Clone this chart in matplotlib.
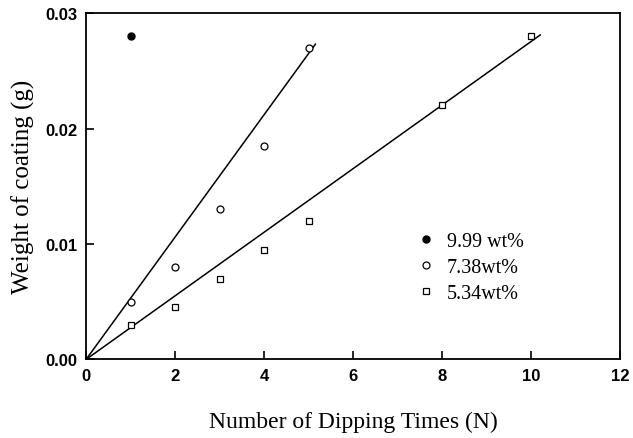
import matplotlib
matplotlib.use("Agg")
import matplotlib.pyplot as plt

# Data
x_999 = [1]
y_999 = [0.028]

x_738 = [1, 2, 3, 4, 5]
y_738 = [0.005, 0.008, 0.013, 0.0185, 0.027]

x_534 = [1, 2, 3, 4, 5, 8, 10]
y_534 = [0.003, 0.0045, 0.007, 0.0095, 0.012, 0.022, 0.028]

# Fitted lines (through origin) as drawn in the reference
fit_x_738 = [0, 5.15]
fit_y_738 = [0, 0.0273]
fit_x_534 = [0, 10.2]
fit_y_534 = [0, 0.0281]

xticks = [0, 2, 4, 6, 8, 10, 12]
yticks = [0.00, 0.01, 0.02, 0.03]
ytick_labels = ["0.00", "0.01", "0.02", "0.03"]

fig = plt.figure(figsize=(6.33, 4.39), dpi=100)
ax = fig.add_axes([0.136, 0.179, 0.844, 0.789])

ax.plot(fit_x_738, fit_y_738, color="black", lw=1.1)
ax.plot(fit_x_534, fit_y_534, color="black", lw=1.1)

ax.plot(x_999, y_999, "o", color="black", ms=5, label="9.99 wt%", linestyle="none")
ax.plot(x_738, y_738, "o", mfc="white", mec="black", mew=0.9, ms=5, label="7.38wt%", linestyle="none")
ax.plot(x_534, y_534, "s", mfc="white", mec="black", mew=0.9, ms=4.5, label="5.34wt%", linestyle="none")

ax.set_xlim(0, 12)
ax.set_ylim(0, 0.03)
ax.set_xticks(xticks)
ax.set_yticks(yticks)
ax.set_yticklabels(ytick_labels)
ax.tick_params(direction="in", length=6, width=1.2, top=False, right=False,
               labelsize=12, pad=6)
for lab in ax.get_xticklabels() + ax.get_yticklabels():
    lab.set_fontfamily("Liberation Sans")
    lab.set_fontweight("bold")
for s in ax.spines.values():
    s.set_linewidth(1.3)

ax.set_xlabel("Number of Dipping Times (N)", fontfamily="Liberation Serif", fontsize=17, labelpad=20)
ax.set_ylabel("Weight of coating (g)", fontfamily="Liberation Serif", fontsize=18, labelpad=8)

leg = ax.legend(loc="upper left", bbox_to_anchor=(0.585, 0.42), frameon=False,
                prop={"family": "Liberation Serif", "size": 14.5},
                handletextpad=0.6, labelspacing=0.33, handlelength=0.9)

fig.savefig("out.png", dpi=100)
